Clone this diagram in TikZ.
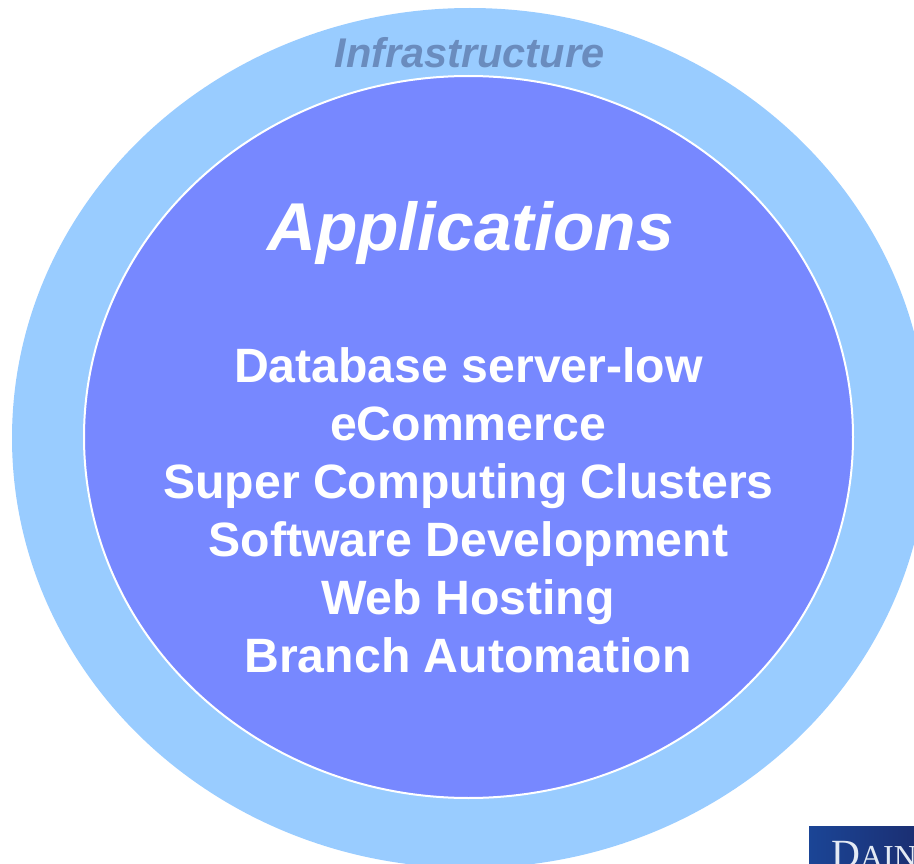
\documentclass[tikz,border=0pt]{standalone}
\usepackage{fontspec}
\setmainfont{Liberation Sans}
\newfontfamily\serifdk{Liberation Serif}
\definecolor{outerc}{HTML}{99CCFF}
\definecolor{innerc}{HTML}{7788FF}
\definecolor{infra}{HTML}{6A8CBE}
\definecolor{logol}{HTML}{1B4596}
\definecolor{logor}{HTML}{1B2F73}
\definecolor{logot}{HTML}{E4EAF4}
\tikzset{listline/.style={text=white,font=\bfseries\fontsize{48.2}{48.2}\selectfont,inner sep=0pt,anchor=base}}
\begin{document}
\begin{tikzpicture}[x=1pt,y=-1pt]
\useasboundingbox (0,0) rectangle (914,864);
\fill[white] (0,0) rectangle (914,864);
\begin{scope}
\clip (0,0) rectangle (914,864);
\fill[outerc] (470,438) ellipse [x radius=458,y radius=430];
\draw[white,line width=2pt,fill=innerc] (468.5,437) ellipse [x radius=384.5,y radius=361];
\shade[left color=logol,right color=logor] (809,826) rectangle (914,864);
\node[text=logot,inner sep=0pt,anchor=base west,font=\serifdk\fontsize{40}{40}\selectfont] (logo) at (831,867) {D\fontsize{32}{32}\selectfont AIN};
\end{scope}
\node[text=infra,inner sep=0pt,anchor=base,font=\bfseries\itshape\fontsize{41.5}{41.5}\selectfont] (inf) at (469.5,68) {Infrastructure};
\node[text=white,inner sep=0pt,anchor=base,font=\bfseries\itshape\fontsize{67.7}{67.7}\selectfont] (app) at (470.5,251) {Applications};
\node[listline] (l1) at (468.5,382) {Database server-low};
\node[listline] (l2) at (468,440) {eCommerce};
\node[listline] (l3) at (468.5,498) {Super Computing Clusters};
\node[listline] (l4) at (468.5,556) {Software Development};
\node[listline] (l5) at (468,614) {Web Hosting};
\node[listline] (l6) at (468,672) {Branch Automation};
\end{tikzpicture}
\end{document}
